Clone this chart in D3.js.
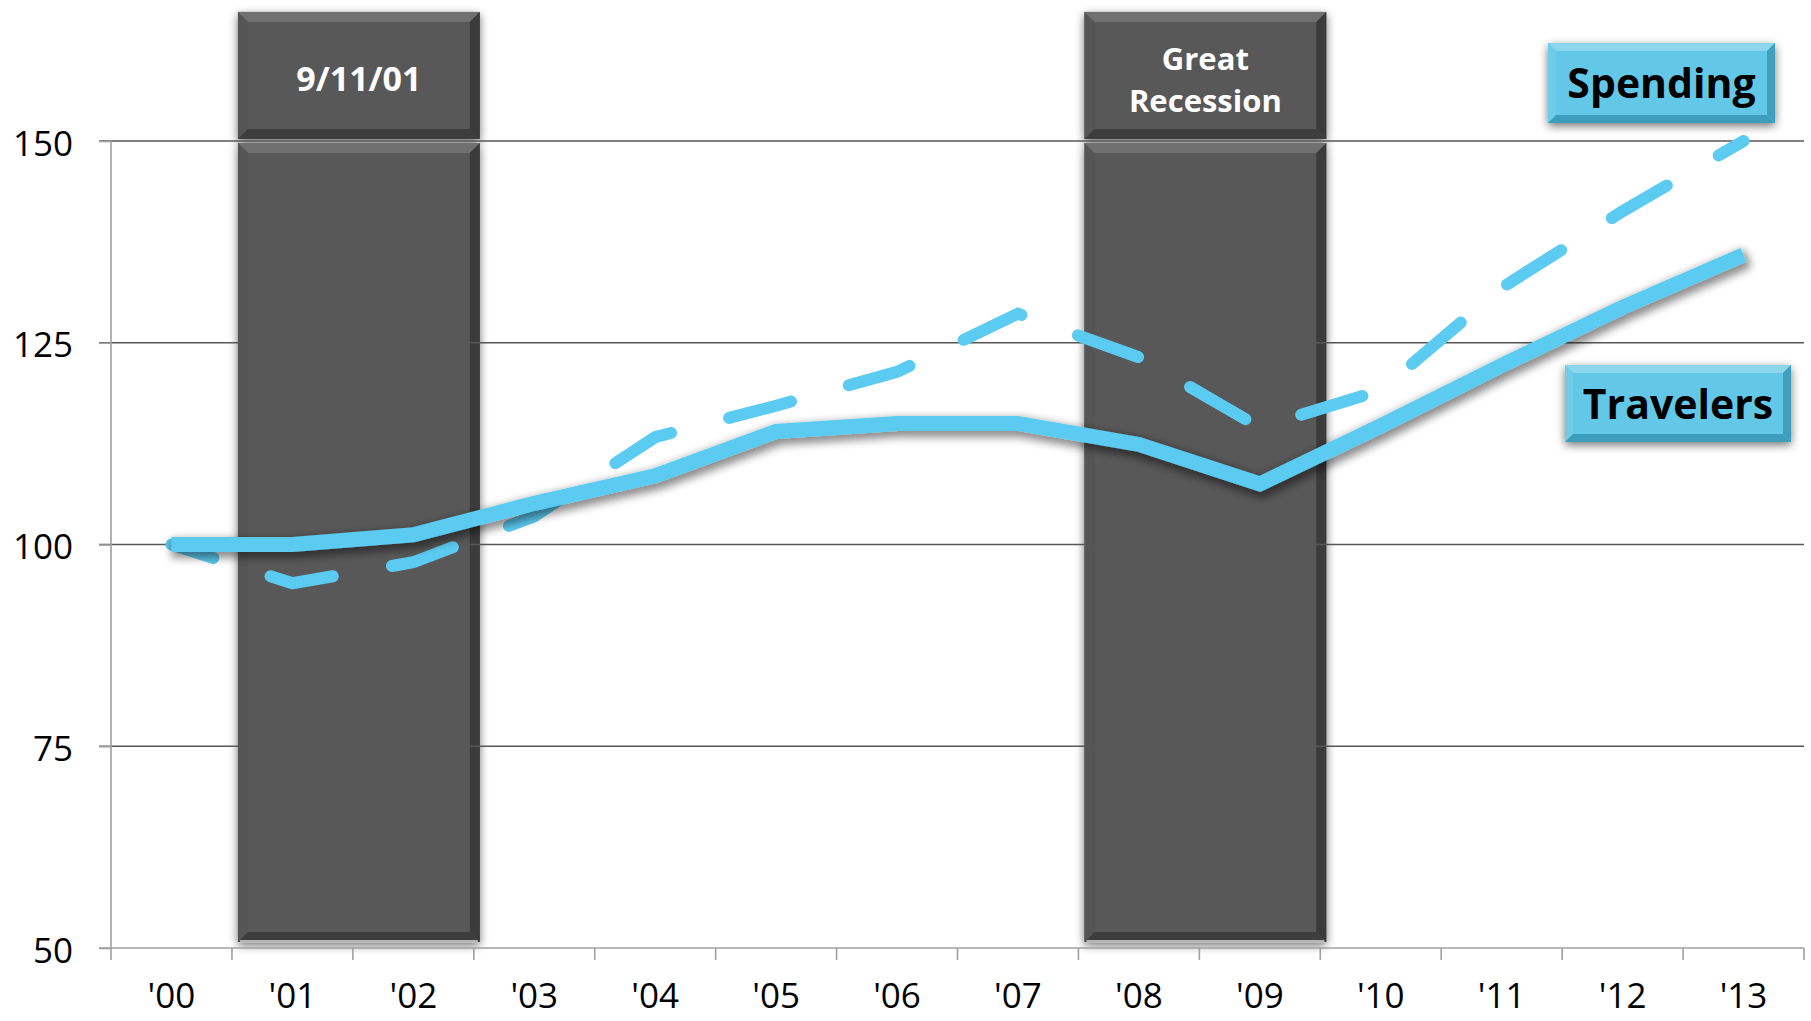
<!DOCTYPE html>
<html>
<head>
<meta charset="utf-8">
<script src="https://cdn.jsdelivr.net/npm/d3@7"></script>
<style>
  body { margin: 0; background: #fff; }
  svg { display: block; }
  text { font-family: "Open Sans", "Noto Sans", sans-serif; }
</style>
</head>
<body>
<script>
// Data (index, 2000 = 100)
var years = ["'00", "'01", "'02", "'03", "'04", "'05", "'06", "'07", "'08", "'09", "'10", "'11", "'12", "'13"];
var travelers = [100, 100, 101.2, 105.1, 108.5, 114, 115, 115, 112.4, 107.5, 114.7, 122.2, 129.4, 135.9];
var spending = [100, 95.2, 97.8, 103.5, 113.3, 117.2, 121.4, 128.6, 123.2, 114.5, 119.1, 131.8, 141.3, 150];
var yTicks = [50, 75, 100, 125, 150];

// Shaded event columns
var eventLabels = [["9/11/01"], ["Great", "Recession"]];
var eventFirstYear = ["'01", "'08"];
var eventLastYear = ["'02", "'09"];
var columnBreak = 150, columnTop = 166;

var seriesNames = ["Spending", "Travelers"];

//Define sizes
var W = 1811, H = 1021;
var margin = {left: 111, right: 7, top: 141, bottom: 73};

var svg = d3.select("body").append("svg")
    .attr("width", W)
    .attr("height", H);

var defs = svg.append("defs");

// soft shadow for the columns and boxes
var f1 = defs.append("filter").attr("id", "boxShadow")
    .attr("x", "-20%").attr("y", "-20%").attr("width", "140%").attr("height", "140%");
f1.append("feGaussianBlur").attr("in", "SourceAlpha").attr("stdDeviation", 5).attr("result", "b");
f1.append("feOffset").attr("in", "b").attr("dx", 0).attr("dy", 3).attr("result", "o");
f1.append("feComponentTransfer").attr("in", "o").attr("result", "s")
  .append("feFuncA").attr("type", "linear").attr("slope", 0.55);
var m1 = f1.append("feMerge");
m1.append("feMergeNode").attr("in", "s");
m1.append("feMergeNode").attr("in", "SourceGraphic");

// shadow for the solid line
var f2 = defs.append("filter").attr("id", "lineShadow")
    .attr("x", "-10%").attr("y", "-20%").attr("width", "120%").attr("height", "140%");
f2.append("feMorphology").attr("in", "SourceAlpha").attr("operator", "dilate").attr("radius", 2).attr("result", "d");
f2.append("feGaussianBlur").attr("in", "d").attr("stdDeviation", 4).attr("result", "b");
f2.append("feOffset").attr("in", "b").attr("dx", 2).attr("dy", 4).attr("result", "o");
f2.append("feComponentTransfer").attr("in", "o").attr("result", "s")
  .append("feFuncA").attr("type", "linear").attr("slope", 0.45);
var m2 = f2.append("feMerge");
m2.append("feMergeNode").attr("in", "s");
m2.append("feMergeNode").attr("in", "SourceGraphic");

//Scales
var x = d3.scaleBand()
    .domain(years)
    .range([margin.left, W - margin.right])
    .paddingInner(0).paddingOuter(0);
var bw = x.bandwidth();

var y = d3.scaleLinear()
    .domain([50, 150])
    .range([H - margin.bottom, margin.top]);

// bevelled rectangle like the office shapes
function bevelBox(g, x0, y0, w, h, b, c) {
  g.append("rect").attr("x", x0).attr("y", y0).attr("width", w).attr("height", h).attr("fill", c.base);
  var pts = {
    top: [[x0, y0], [x0 + w, y0], [x0 + w - b, y0 + b], [x0 + b, y0 + b]],
    left: [[x0, y0], [x0 + b, y0 + b], [x0 + b, y0 + h - b], [x0, y0 + h]],
    right: [[x0 + w, y0], [x0 + w, y0 + h], [x0 + w - b, y0 + h - b], [x0 + w - b, y0 + b]],
    bottom: [[x0, y0 + h], [x0 + w, y0 + h], [x0 + w - b, y0 + h - b], [x0 + b, y0 + h - b]]
  };
  Object.keys(pts).forEach(function(k) {
    g.append("polygon")
      .attr("points", pts[k].map(function(p) { return p.join(","); }).join(" "))
      .attr("fill", c[k]);
  });
}

var grayBox = {base: "#595959", top: "#6f6f6f", left: "#555555", right: "#3b3b3b", bottom: "#3e3e3e"};
var blueBox = {base: "#63c8e7", top: "#8cd7ee", left: "#70cdea", right: "#3f9fbf", bottom: "#3d9dbd"};

//Event columns
var cols = svg.append("g").attr("class", "events");
eventLabels.forEach(function(lab, i) {
  var x0 = x(eventFirstYear[i]) + 6;
  var x1 = x(eventLastYear[i]) + bw + 6;
  var g = cols.append("g").attr("filter", "url(#boxShadow)");
  // lower part
  bevelBox(g, x0, y(columnBreak) + 2, x1 - x0, y(50) - 6 - (y(columnBreak) + 2), 10, grayBox);
  g.append("rect").attr("x", x0 + 2).attr("y", y(50) - 8).attr("width", x1 - x0 - 4).attr("height", 2.5).attr("fill", "#b5b5b5");
  // upper part
  bevelBox(g, x0, y(columnTop), x1 - x0, y(columnBreak) - 2 - y(columnTop), 10, grayBox);

  var cy = (y(columnTop) + y(columnBreak)) / 2 + 4;
  var t = cols.append("text")
    .attr("x", (x0 + x1) / 2)
    .attr("text-anchor", "middle")
    .attr("fill", "#fff")
    .attr("font-weight", "bold")
    .attr("font-size", lab.length > 1 ? 31 : 34);
  lab.forEach(function(s, j) {
    t.append("tspan")
      .attr("x", (x0 + x1) / 2)
      .attr("y", cy + (j - (lab.length - 1) / 2) * 42 + 11)
      .text(s);
  });
});

//Gridlines
svg.append("g").selectAll("line")
  .data(yTicks.filter(function(d) { return d > 50; }))
  .enter().append("line")
  .attr("x1", margin.left - 12).attr("x2", W - margin.right)
  .attr("y1", function(d) { return y(d); }).attr("y2", function(d) { return y(d); })
  .attr("stroke", "#575757").attr("stroke-width", 1.4);

//Axes
var axes = svg.append("g").attr("class", "axes");
axes.append("line")
  .attr("x1", margin.left).attr("x2", margin.left)
  .attr("y1", y(150)).attr("y2", y(50))
  .attr("stroke", "#a0a0a0").attr("stroke-width", 1.6);
axes.append("line")
  .attr("x1", margin.left - 12).attr("x2", W - margin.right)
  .attr("y1", y(50)).attr("y2", y(50))
  .attr("stroke", "#a0a0a0").attr("stroke-width", 1.6);
axes.selectAll("line.xt")
  .data(years.map(function(d) { return x(d); }).concat([W - margin.right]))
  .enter().append("line").attr("class", "xt")
  .attr("x1", function(d) { return d; }).attr("x2", function(d) { return d; })
  .attr("y1", y(50)).attr("y2", y(50) + 12)
  .attr("stroke", "#a0a0a0").attr("stroke-width", 1.6);

var yAxis = svg.append("g")
  .attr("transform", "translate(" + margin.left + ",0)")
  .call(d3.axisLeft(y).tickValues(yTicks).tickSize(12).tickPadding(26));
yAxis.select(".domain").remove();
yAxis.selectAll(".tick line").attr("stroke", "#a0a0a0").attr("stroke-width", 1.6);
yAxis.selectAll(".tick text")
  .attr("font-family", "Open Sans, sans-serif")
  .attr("font-size", 35)
  .attr("fill", "#000")
  .attr("dy", "0.4em");

svg.append("g").selectAll("text")
  .data(years)
  .enter().append("text")
  .attr("x", function(d) { return x(d) + bw / 2; })
  .attr("y", 1008)
  .attr("text-anchor", "middle")
  .attr("font-size", 35)
  .attr("fill", "#000")
  .text(function(d) { return d; });

//Lines
var line = d3.line()
  .x(function(d, i) { return x(years[i]) + bw / 2; })
  .y(function(d) { return y(d); });

svg.append("path")
  .datum(spending)
  .attr("d", line)
  .attr("fill", "none")
  .attr("stroke", "#5ccbf1")
  .attr("stroke-width", 12)
  .attr("stroke-linecap", "round")
  .attr("stroke-linejoin", "miter")
  .attr("stroke-dasharray", "64,60")
  .attr("stroke-dashoffset", 20);

svg.append("path")
  .datum(travelers)
  .attr("d", line)
  .attr("fill", "none")
  .attr("stroke", "#5ccbf1")
  .attr("stroke-width", 15)
  .attr("stroke-linejoin", "miter")
  .attr("filter", "url(#lineShadow)");

//Series labels
var boxes = [{x: 1548, y: 43, w: 227, h: 80}, {x: 1565, y: 365, w: 226, h: 77}];
seriesNames.forEach(function(name, i) {
  var bx = boxes[i];
  var g = svg.append("g").attr("filter", "url(#boxShadow)");
  bevelBox(g, bx.x, bx.y, bx.w, bx.h, 8, blueBox);
  svg.append("text")
    .attr("x", bx.x + bx.w / 2)
    .attr("y", bx.y + bx.h / 2 + 15)
    .attr("text-anchor", "middle")
    .attr("font-weight", "bold")
    .attr("font-size", 41)
    .attr("fill", "#000")
    .text(name);
});
</script>
</body>
</html>
